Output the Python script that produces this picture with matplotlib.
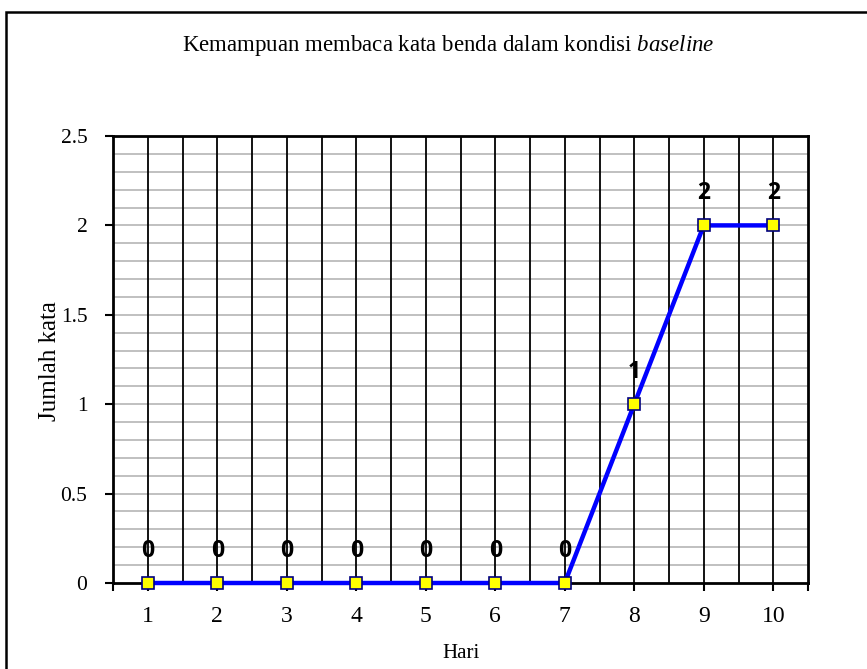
import matplotlib.pyplot as plt
from matplotlib.patches import Rectangle
import numpy as np

# chart data
hari = [1, 2, 3, 4, 5, 6, 7, 8, 9, 10]
jumlah_kata = [0, 0, 0, 0, 0, 0, 0, 1, 2, 2]
y_ticks = [0, 0.5, 1, 1.5, 2, 2.5]
y_tick_labels = ["0", "0.5", "1", "1.5", "2", "2.5"]

TITLE = "Kemampuan membaca kata benda dalam kondisi $\\it{baseline}$"

plt.rcParams["font.family"] = ["Liberation Serif", "DejaVu Serif"]
plt.rcParams["mathtext.fontset"] = "custom"
plt.rcParams["mathtext.it"] = "Liberation Serif:italic"
plt.rcParams["mathtext.rm"] = "Liberation Serif"

W, H = 867, 669
fig = plt.figure(figsize=(W / 100, H / 100), dpi=100)

# outer chart border (clipped at right and bottom like the source)
fig.patches.append(Rectangle((6 / W, -0.05), 1.1, 1.05 - 12 / H,
                             transform=fig.transFigure, fill=False,
                             edgecolor="black", linewidth=1.8))

left, right, top, bottom = 113, 808, 136, 583
ax = fig.add_axes([left / W, 1 - bottom / H, (right - left) / W, (bottom - top) / H])

ax.set_xlim(0.5, 10.5)
ax.set_ylim(0, 2.5)

# grey minor horizontal gridlines every 0.1
for yv in np.arange(0.1, 2.5, 0.1):
    ax.axhline(yv, color="#c0c0c0", linewidth=1.4, zorder=1)

# black vertical gridlines at each half category
for xv in np.arange(1, 10.5, 0.5):
    ax.axvline(xv, color="black", linewidth=1.3, zorder=2)

ax.plot(hari, jumlah_kata, color="#0000ff", linewidth=3.2, zorder=4,
        marker="s", markersize=8, markerfacecolor="#ffff00",
        markeredgecolor="#000080", markeredgewidth=1.2, clip_on=False)

for x, y in zip(hari, jumlah_kata):
    ax.annotate(str(y), (x, y), xytext=(0, 23), textcoords="offset points",
                ha="center", va="center", fontsize=16.5, fontweight="bold",
                family=["Open Sans", "DejaVu Sans"], zorder=5)

ax.set_xticks(hari + [0.5, 10.5])
ax.set_xticklabels([str(h) for h in hari] + ["", ""])
ax.set_yticks(y_ticks)
ax.set_yticklabels(y_tick_labels)
ax.tick_params(axis="both", direction="out", length=5.5, width=1.5,
               color="black")
ax.tick_params(axis="x", pad=11, labelsize=17)
ax.tick_params(axis="y", pad=13, labelsize=15.5)

for sp in ax.spines.values():
    sp.set_linewidth(2)
    sp.set_color("black")
    sp.set_zorder(3)

fig.text(448 / W, 1 - 45 / H, TITLE, ha="center", va="center", fontsize=16.5)
fig.text(461 / W, 1 - 653 / H, "Hari", ha="center", va="center", fontsize=15)
fig.text(50 / W, 1 - 361 / H, "Jumlah kata", ha="center", va="center",
         fontsize=18, rotation=90)

fig.savefig("out.png", dpi=100)
